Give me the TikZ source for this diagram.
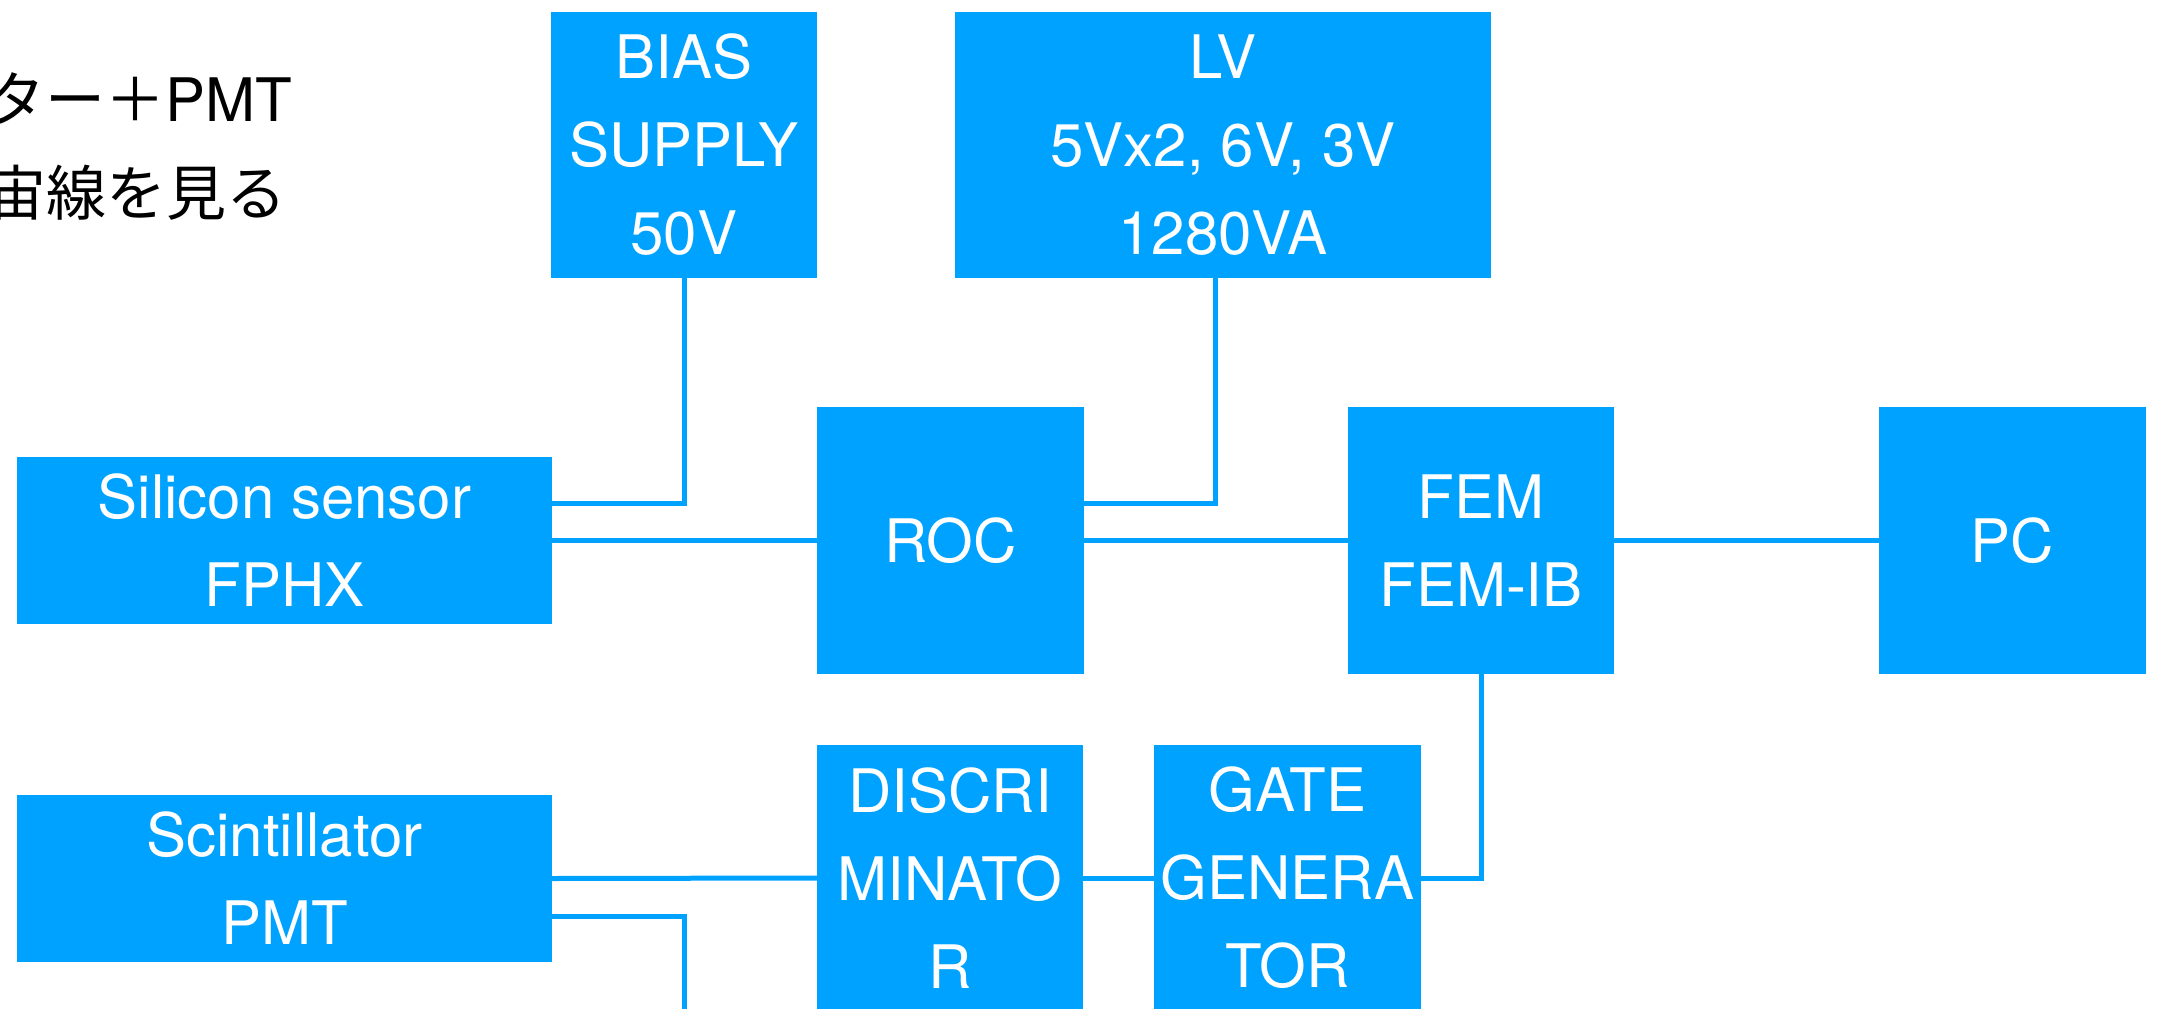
\documentclass[tikz,border=0pt]{standalone}
\usepackage{fontspec}
\setmainfont{TeX Gyre Heros}
\newfontfamily\jpfont{Noto Sans CJK JP}
\definecolor{boxblue}{RGB}{0,162,255}
\begin{document}
\begin{tikzpicture}[x=1pt,y=-1pt,
  blk/.style={fill=boxblue, draw=none, inner sep=0pt, text=white, align=center,
    font=\fontsize{60}{88}\selectfont},
  sq/.style={blk, minimum width=266pt, minimum height=266pt},
  wide/.style={blk, minimum width=535pt, minimum height=167pt},
  wire/.style={draw=boxblue, line width=5pt},
  lbl/.style={inner sep=0pt, text=black, font=\fontsize{60}{72}\selectfont}
]
\useasboundingbox (0,0) rectangle (2160,1009);
\fill[white] (0,0) rectangle (2160,1009);

% top-left caption (cut off at the left edge)
\node[lbl, anchor=base east] (cap1) at (292,121) {{\jpfont ター＋}PMT};
\node[lbl, anchor=base east] (cap2) at (287,215) {\jpfont 宙線を見る};

% blocks
\node[sq] (bias) at (684,145) {BIAS\\SUPPLY\\50V};
\node[blk, minimum width=536pt, minimum height=266pt] (lv) at (1223,145) {LV\\5Vx2, 6V, 3V\\1280VA};
\node[wide] (si) at (284.5,540.5) {Silicon sensor\\FPHX};
\node[sq, minimum width=267pt, minimum height=267pt] (roc) at (950.5,540.5) {ROC};
\node[sq, minimum height=267pt] (fem) at (1481,540.5) {FEM\\FEM-IB};
\node[sq, minimum width=267pt, minimum height=267pt] (pc) at (2012.5,540.5) {PC};
\node[wide] (sc) at (284.5,878.5) {Scintillator\\PMT};
\node[sq] (disc) at (950,878) {DISCRI\\MINATO\\R};
\node[sq, minimum width=267pt] (gate) at (1287.5,878) {GATE\\GENERA\\TOR};

\coordinate (scend) at (684,1020);

% connectors
\draw[wire] (bias.south) |- ([yshift=37.5pt]si.east);
\draw[wire] (si.east) -- (roc.west);
\draw[wire] ([xshift=-8pt]lv.south) |- ([yshift=37.5pt]roc.east);
\draw[wire] (roc.east) -- (fem.west);
\draw[wire] (fem.east) -- (pc.west);
\draw[wire] (fem.south) |- (gate.east);
\draw[wire] (sc.east) -- (disc.west);
\draw[wire] (disc.east) -- (gate.west);
\draw[wire] ([yshift=-37.5pt]sc.east) -| (scend);
\end{tikzpicture}
\end{document}
